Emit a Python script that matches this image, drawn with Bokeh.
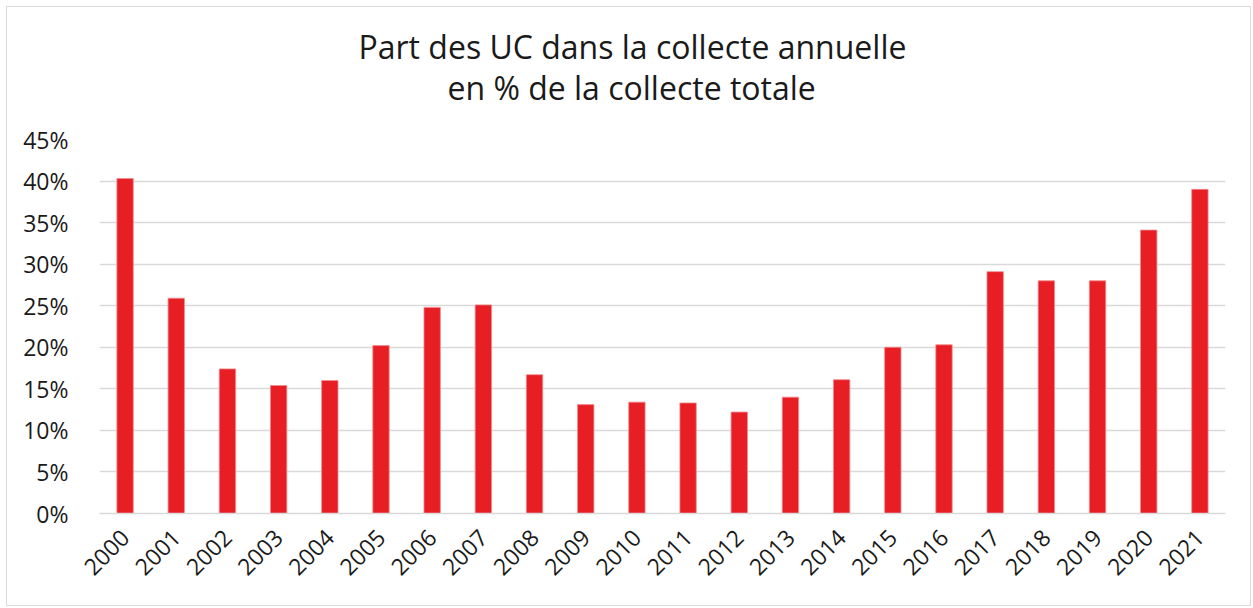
from bokeh.plotting import figure
from bokeh.models import Range1d, FixedTicker, PrintfTickFormatter, Title
from bokeh.embed import file_html
from bokeh.resources import INLINE
import math

years = [str(y) for y in range(2000, 2022)]
shares = [40.3, 25.9, 17.4, 15.4, 16.0, 20.2, 24.8, 25.1, 16.7, 13.1, 13.4,
          13.3, 12.2, 14.0, 16.1, 20.0, 20.3, 29.1, 28.0, 28.0, 34.1, 39.0]
y_ticks = [0, 5, 10, 15, 20, 25, 30, 35, 40, 45]
title_lines = ["Part des UC dans la collecte annuelle", "en % de la collecte totale"]

FONT = "Open Sans"

p = figure(x_range=years, y_range=Range1d(0, 45), width=1245, height=600,
           output_backend="svg", toolbar_location=None,
           min_border_left=92, min_border_right=27, min_border_top=132, min_border_bottom=94)
p.styles = {"border": "1px solid #d9d9d9", "margin-left": "6px", "margin-top": "6px"}

p.vbar(x=years, top=shares, width=0.32, fill_color="#E81E25", line_color="#F08A8D", line_width=0.8)

# title lines: the first one added sits closest to the plot
for txt, so, off in [(title_lines[1], 62, 348), (title_lines[0], -70, 259)]:
    p.add_layout(Title(text=txt, align="left", offset=off, standoff=so,
                       text_font=FONT, text_font_size="32px", text_font_style="normal",
                       text_color="#1a1a1a"), "above")

p.outline_line_color = None
p.xgrid.grid_line_color = None
p.ygrid.grid_line_color = "#d9d9d9"
p.ygrid.grid_line_width = 1.6
p.yaxis.ticker = FixedTicker(ticks=y_ticks)
p.yaxis.formatter = PrintfTickFormatter(format="%d%%")
p.yaxis.axis_line_color = None
p.yaxis.major_tick_line_color = None
p.yaxis.minor_tick_line_color = None
p.yaxis.major_label_standoff = 25
p.yaxis.major_label_text_font = FONT
p.yaxis.major_label_text_font_size = "23px"
p.yaxis.major_label_text_color = "#1a1a1a"

p.xaxis.axis_line_color = "#d9d9d9"
p.xaxis.axis_line_width = 1.6
p.xaxis.major_tick_line_color = None
p.xaxis.minor_tick_line_color = None
p.xaxis.major_label_orientation = math.pi / 4
p.xaxis.major_label_standoff = 14
p.xaxis.major_label_text_font = FONT
p.xaxis.major_label_text_font_size = "23px"
p.xaxis.major_label_text_color = "#1a1a1a"

p.x_range.range_padding = 0
p.x_range.factor_padding = 0

open("out.html", "w").write(file_html(p, INLINE))
